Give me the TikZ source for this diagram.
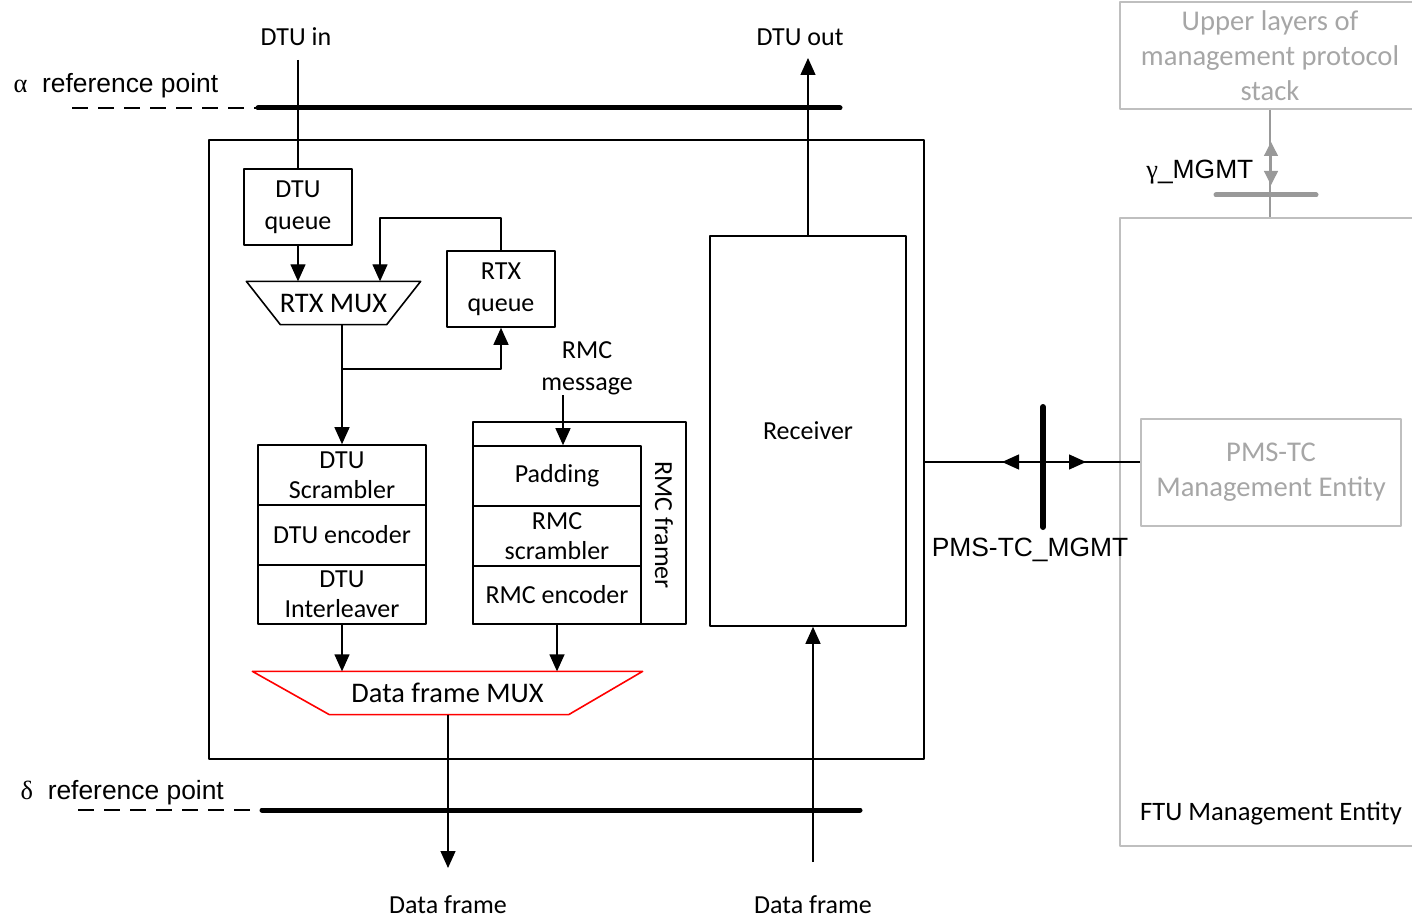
\documentclass[tikz,border=0pt]{standalone}
\usepackage{fontspec}
\setmainfont{Carlito}
\newfontfamily\arialfont{Liberation Sans}
\newfontfamily\grkfont{Liberation Serif}
\usetikzlibrary{arrows.meta}
\tikzset{
  blk/.style={draw, line width=0.8pt, align=center, inner sep=0pt},
  muxtxt/.style={inner sep=0pt, font=\fontsize{14.2}{16}\selectfont},
  lbl/.style={align=center, inner sep=0pt},
  refline/.style={line width=2.5pt, line cap=round},
  refdash/.style={dash pattern=on 8pt off 5pt},
  grybox/.style={draw=black!25, text=black!35, line width=0.8pt, align=center,
    inner sep=0pt, font=\fontsize{14.3}{17.5}\selectfont},
  arl/.style={font=\arialfont\fontsize{13.2}{15}\selectfont, inner sep=0pt},
}
\begin{document}
\begin{tikzpicture}[x=0.5pt, y=-0.5pt, line width=0.65pt, line join=round,
  >={Triangle[length=8.5pt,width=7.5pt]}, font=\fontsize{13}{16}\selectfont]
\useasboundingbox (0,0) rectangle (1412,919);
% reference points
\draw[refdash] (72,108) -- (258,108);
\draw[refline] (258,108) -- (840,108);
\draw[refdash] (78,810) -- (262,810);
\draw[refline] (262,810) -- (860,810);
\node[arl, anchor=west] (alpha) at (13,86) {{\grkfont α}\ \ reference point};
\node[arl, anchor=west] (delta) at (20,793) {{\grkfont δ}\ \ reference point};
% PMS-TC block
\node[blk, minimum width=357.5pt, minimum height=309.5pt] (ob) at (566.5,449.5) {};
\node[blk, minimum width=54pt, minimum height=38pt] (dq) at (298,207) {DTU\\queue};
\node[blk, minimum width=54pt, minimum height=38pt] (rq) at (501,289) {RTX\\queue};
\node[muxtxt, minimum width=86.5pt, minimum height=21pt] (rmux) at (333.5,303) {RTX MUX};
\draw[line width=0.8pt] (rmux.north west) -- (rmux.north east)
  -- ([xshift=-17pt]rmux.south east) -- ([xshift=17pt]rmux.south west) -- cycle;
\node[blk, minimum width=84pt, minimum height=30pt] (scr) at (342,475) {DTU\\[-1pt]Scrambler};
\node[blk, minimum width=84pt, minimum height=30pt] (enc) at (342,535) {DTU encoder};
\node[blk, minimum width=84pt, minimum height=29.5pt] (intl) at (342,594.5) {DTU\\[-1pt]Interleaver};
\node[blk, minimum width=106.5pt, minimum height=101pt] (frm) at (579.5,523) {};
\node[blk, minimum width=84pt, minimum height=30pt] (pad) at (557,476) {Padding};
\node[blk, minimum width=84pt, minimum height=30pt] (rscr) at (557,536) {RMC\\[-1pt]scrambler};
\node[blk, minimum width=84pt, minimum height=29pt] (renc) at (557,595) {RMC encoder};
\node[lbl, rotate=-90] (frmlbl) at (664,525) {RMC framer};
\node[lbl] (rmsg) at (587,368) {RMC\\message};
\node[blk, minimum width=98pt, minimum height=195pt] (rx) at (808,431) {Receiver};
\node[muxtxt, minimum width=194.5pt, minimum height=21pt] (dmux) at (447.5,693) {Data frame MUX};
\draw[red, line width=0.8pt] (dmux.north west) -- (dmux.north east)
  -- ([xshift=-37pt]dmux.south east) -- ([xshift=38.5pt]dmux.south west) -- cycle;
% external labels
\node[lbl] (dtuin) at (296,37) {DTU in};
\node[lbl] (dtuout) at (800,37) {DTU out};
\node[lbl] (dfo) at (448,905) {Data frame};
\node[lbl] (dfi) at (813,905) {Data frame};
\coordinate (inend) at (296,60);
\coordinate (outend) at (807,58);
\coordinate (dfoend) at (448,868);
\coordinate (dfiend) at (813,862);
\coordinate (fb) at (380,218);
\coordinate (br) at (342,369);
% connectors
\draw (dq.north |- inend) -- (dq.north);
\draw[->] (dq.south) -- (dq.south |- rmux.north);
\draw[->] (rq.north) |- (fb) -- (fb |- rmux.north);
\draw[->] (scr.north |- rmux.south) -- (scr.north);
\draw[->] (br) -| (rq.south);
\draw[->] ([xshift=-12pt]rmsg.south) -- ([xshift=-12pt]rmsg.south |- pad.north);
\draw[->] (intl.south) -- (intl.south |- dmux.north);
\draw[->] (renc.south) -- (renc.south |- dmux.north);
\draw[->] (dfoend |- dmux.south) -- (dfoend);
\draw[->] (rx.north) -- (rx.north |- outend);
\draw[->] (dfiend) -- (dfiend |- rx.south);
% management side
\node[grybox, minimum width=150pt, minimum height=53.5pt] (up) at (1270,55.5)
  {Upper layers of\\management protocol\\stack};
\node[grybox, minimum width=150pt, minimum height=314pt] (ftu) at (1270,532) {};
\node[lbl, font=\fontsize{13.3}{16}\selectfont] (ftulbl) at (1271,814) {FTU Management Entity};
\node[grybox, minimum width=130pt, minimum height=53.5pt] (pme) at (1271,472.5)
  {PMS-TC\\Management Entity};
\draw[black!40] (up.south) -- (ftu.north);
\coordinate (gm) at (1271,164);
\draw[black!40, -{Triangle[length=7pt,width=7pt]}] (gm) -- ++(0,-22);
\draw[black!40, -{Triangle[length=7pt,width=7pt]}] (gm) -- ++(0,21);
\draw[black!40, refline] (1216,195) -- (1316,195);
\node[arl, anchor=east] (gmlbl) at (1254,172) {{\grkfont γ}\_MGMT};
\coordinate (mg) at (1043,462);
\draw (ob.east |- mg) -- (mg -| pme.west);
\draw[->] (mg) -- ++(-41,0);
\draw[->] (mg) -- ++(43,0);
\draw[line width=3pt, line cap=round] (1043,407) -- (1043,527);
\node[arl] (mglbl) at (1030,550) {PMS-TC\_MGMT};
\end{tikzpicture}
\end{document}
